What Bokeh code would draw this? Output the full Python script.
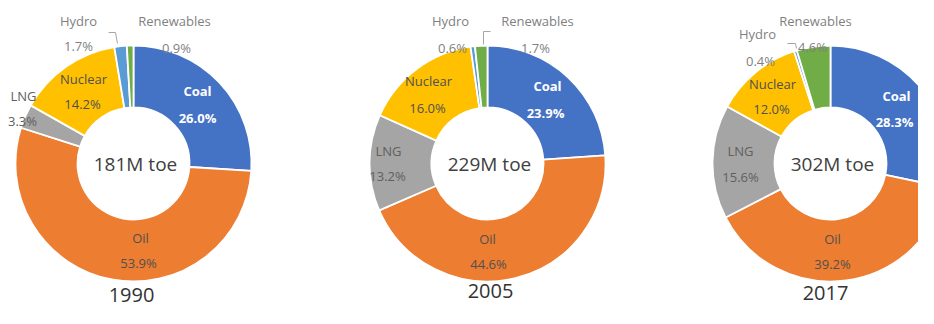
import math
from bokeh.plotting import figure
from bokeh.models import Range1d, ColumnDataSource
from bokeh.embed import file_html
from bokeh.resources import INLINE
from bokeh.core.properties import value

# ---------------- data ----------------
sources = ["Coal", "Oil", "LNG", "Nuclear", "Hydro", "Renewables"]
years = ["1990", "2005", "2017"]
totals = ["181M toe", "229M toe", "302M toe"]
share_1990 = [26.0, 53.9, 3.3, 14.2, 1.7, 0.9]
share_2005 = [23.9, 44.6, 13.2, 16.0, 0.6, 1.7]
share_2017 = [28.3, 39.2, 15.6, 12.0, 0.4, 4.6]
shares = [share_1990, share_2005, share_2017]

# ---------------- style / layout ----------------
colors = ["#4472C4", "#ED7D31", "#A5A5A5", "#FFC000", "#5B9BD5", "#70AD47"]
W, H = 918, 308  # canvas pixels (y measured downward for layout)
centers = [(133, 163), (487, 163), (830, 163)]
R_OUT, R_IN = 118, 56
year_pos = [(131, 294), (490, 290), (825, 292)]

# label positions (name line, value line) in canvas pixel coordinates
label_pos = [
    {"Coal": ((197, 90), (197, 117)), "Oil": ((140, 237), (138, 262)),
     "LNG": ((23, 95), (22, 120)), "Nuclear": ((83, 78), (82, 103)),
     "Hydro": ((78, 20), (78, 45)), "Renewables": ((174, 20), (176, 47))},
    {"Coal": ((547, 85), (545, 112)), "Oil": ((487, 238), (488, 263)),
     "LNG": ((388, 150), (387, 175)), "Nuclear": ((428, 80), (427, 107)),
     "Hydro": ((450, 20), (452, 47)), "Renewables": ((537, 20), (535, 47))},
    {"Coal": ((896, 95), (894, 121)), "Oil": ((832, 238), (832, 263)),
     "LNG": ((740, 150), (740, 176)), "Nuclear": ((772, 83), (771, 108)),
     "Hydro": ((757, 33), (760, 60)), "Renewables": ((815, 20), (812, 46))},
]
leaders = [
    [(108, 32), (115, 32), (117, 43)],
    [(490, 31), (483, 31), (483, 44)],
    [(787, 43), (795, 43), (796, 48)],
]
label_color = {"Coal": "#FFFFFF", "Oil": "#505050", "LNG": "#606060",
               "Nuclear": "#505050", "Hydro": "#7F7F7F", "Renewables": "#7F7F7F"}
FONT = "Open Sans"

p = figure(width=W, height=H, x_range=Range1d(0, W), y_range=Range1d(0, H),
           output_backend="svg", toolbar_location=None, min_border=0)
p.axis.visible = False
p.grid.visible = False
p.outline_line_color = None
p.background_fill_color = "#FFFFFF"
p.border_fill_color = "#FFFFFF"

for k, vals in enumerate(shares):
    cx, cy = centers[k]
    total = sum(vals)
    starts, ends = [], []
    cum = 0.0
    for v in vals:
        starts.append(math.pi / 2 - 2 * math.pi * cum / total)
        cum += v
        ends.append(math.pi / 2 - 2 * math.pi * cum / total)
    src = ColumnDataSource(dict(
        x=[cx] * len(vals), y=[H - cy] * len(vals),
        start=starts, end=ends, color=colors,
    ))
    p.annular_wedge(x="x", y="y", inner_radius=R_IN, outer_radius=R_OUT,
                    start_angle="start", end_angle="end", direction="clock",
                    fill_color="color", line_color="white", line_width=1.8,
                    source=src)

    # leader line
    lx = [pt[0] for pt in leaders[k]]
    ly = [H - pt[1] for pt in leaders[k]]
    p.line(lx, ly, line_color="#A6A6A6", line_width=1)

    # slice labels
    xs, ys, txt, cols, weights = [], [], [], [], []
    for name, v in zip(sources, vals):
        (nx, ny), (vx, vy) = label_pos[k][name]
        xs += [nx, vx]
        ys += [H - ny, H - vy]
        txt += [name, f"{v:.1f}%"]
        cols += [label_color[name]] * 2
        weights += ["bold" if name == "Coal" else "normal"] * 2
    lsrc = ColumnDataSource(dict(x=xs, y=ys, text=txt, color=cols, weight=weights))
    p.text(x="x", y="y", text="text", source=lsrc, text_color="color",
           text_font_style="weight",
           text_align="center", text_baseline="middle",
           text_font=value(FONT), text_font_size="13px")

    # centre total
    p.text(x=[cx + 2], y=[H - cy], text=[totals[k]], text_align="center",
           text_baseline="middle", text_font=value(FONT), text_font_size="19px",
           text_color="#404040")

    # year caption
    yx, yy = year_pos[k]
    p.text(x=[yx], y=[H - yy], text=[years[k]], text_align="center",
           text_baseline="middle", text_font=value(FONT), text_font_size="20px",
           text_color="#333333")

open("out.html", "w").write(file_html(p, INLINE))
